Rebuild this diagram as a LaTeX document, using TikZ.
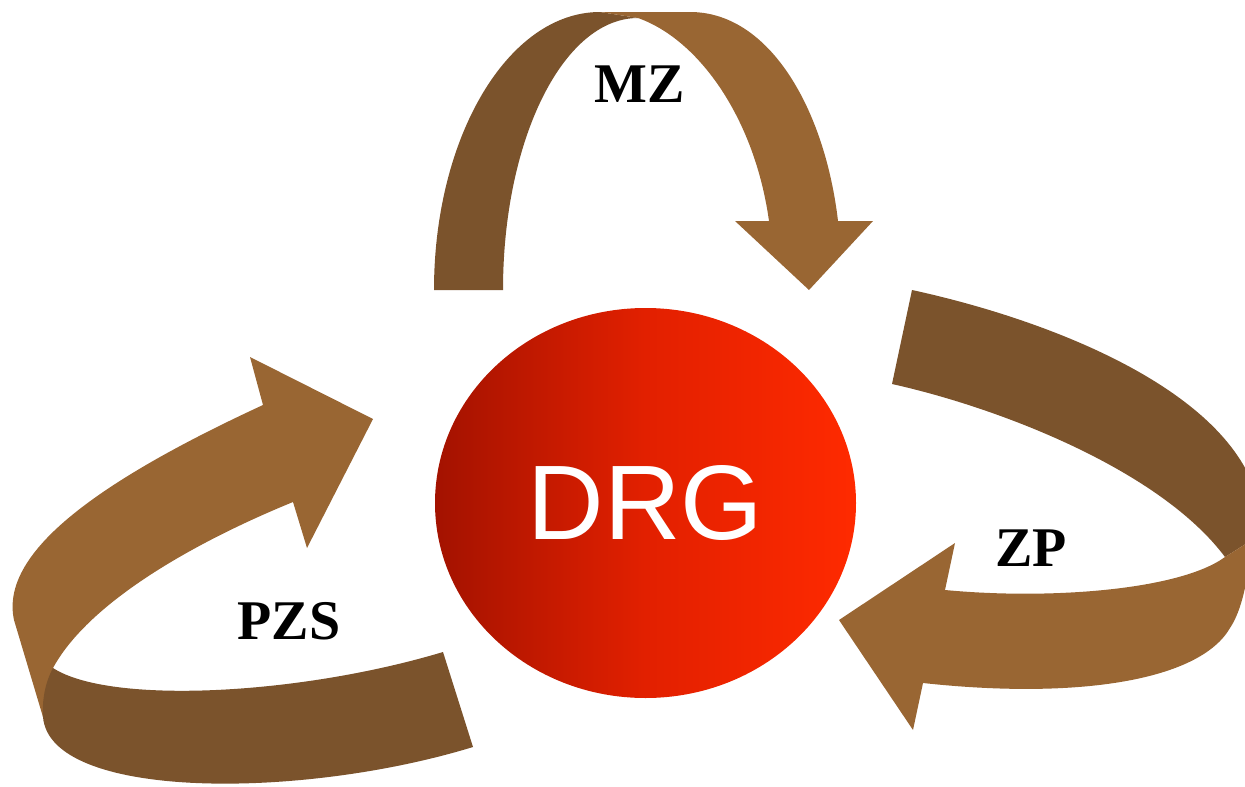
\documentclass[tikz,border=0pt]{standalone}
\usepackage{fontspec}
\setmainfont{Liberation Serif}
\newfontfamily\drgfont{Liberation Sans}
\usetikzlibrary{shapes.geometric}
\definecolor{darkbrown}{HTML}{7B532C}
\definecolor{lightbrown}{HTML}{996633}
\definecolor{redL}{HTML}{A31200}
\definecolor{redM}{HTML}{E22000}
\definecolor{redR}{HTML}{FF2A00}
\tikzset{
  darkband/.style={fill=darkbrown, draw=none},
  lightband/.style={fill=lightbrown, draw=none},
  lbl/.style={font=\bfseries\fontsize{56}{60}\selectfont, text=black, inner sep=0pt},
  core/.style={ellipse, draw=none, inner sep=0pt, minimum width=421pt, minimum height=390pt,
    left color=redL, right color=redR, middle color=redM, text=white, font=\drgfont\fontsize{106}{120}\selectfont}
}
\begin{document}
\begin{tikzpicture}[x=1pt,y=-1pt]
\useasboundingbox (0,0) rectangle (1245,787);
\clip (0,0) rectangle (1245,787);
% top arrow (MZ)
\fill[darkband] (434,290) .. controls (434,137) and (508,12) .. (600,12) -- (638,18)
  .. controls (563,18) and (503,140) .. (503,290) -- cycle;
\fill[lightband] (600,12) -- (690,12) .. controls (770,12) and (825,110) .. (838,221)
  -- (873,221) -- (809,290) -- (735,221) -- (769,221)
  .. controls (755,120) and (700,40) .. (638,18) -- cycle;
% right arrow (ZP)
\fill[darkband] (912,290) .. controls (1050,320) and (1230,390) .. (1258,500) -- (1252,540) -- (1225,557)
  .. controls (1160,470) and (1000,408) .. (892,384) -- cycle;
\fill[lightband] (1225,557) -- (1252,540) .. controls (1248,580) and (1242,610) .. (1230,628)
  .. controls (1200,680) and (1080,700) .. (923,683) -- (913,730) -- (839,620) -- (955,543) -- (945,590)
  .. controls (1050,600) and (1180,590) .. (1225,557) -- cycle;
% left arrow (PZS)
\fill[lightband] (43,717) -- (14,620) .. controls (0,555) and (90,485) .. (263,405) -- (250,357) -- (373,419)
  -- (307,548) -- (293,502) .. controls (200,540) and (90,600) .. (53,668) -- cycle;
\fill[darkband] (53,668) .. controls (45,683) and (42,700) .. (43,717)
  .. controls (50,800) and (300,800) .. (473,747) -- (443,652)
  .. controls (300,695) and (110,705) .. (53,668) -- cycle;
% centre
\node[core] (drg) at (645.5,503) {DRG};
% labels
\node[lbl] (mz) at (640,84.5) {MZ};
\node[lbl] (zp) at (1031,548.5) {ZP};
\node[lbl] (pzs) at (289,621) {PZS};
\end{tikzpicture}
\end{document}
